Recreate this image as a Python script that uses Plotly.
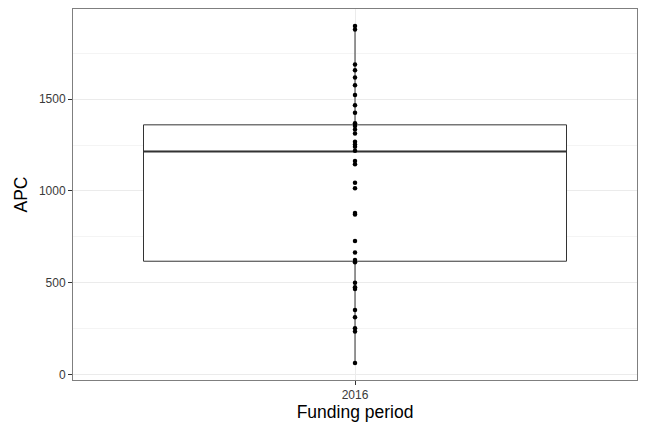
import plotly.graph_objects as go

# APC values (funding period 2016)
period = "2016"
apc_values = [
    1899, 1880, 1689, 1658, 1618, 1576, 1522, 1467, 1426, 1368, 1353, 1335,
    1313, 1268, 1253, 1240, 1219, 1163, 1145, 1045, 1014, 880, 872, 727,
    664, 624, 611, 500, 475, 466, 352, 312, 252, 234, 62,
]
# box statistics as drawn in the reference
box_q1 = 617
box_median = 1215
box_q3 = 1360
box_low = 62
box_high = 1899

x_pos = 2016
box_width = 0.9  # ggplot default

fig = go.Figure()
fig.add_trace(
    go.Box(
        x=[x_pos],
        q1=[box_q1],
        median=[box_median],
        q3=[box_q3],
        lowerfence=[box_low],
        upperfence=[box_high],
        width=box_width,
        whiskerwidth=0,
        fillcolor="white",
        line={"color": "#333333", "width": 1},
        boxpoints=False,
        hoverinfo="skip",
        showlegend=False,
    )
)
# ggplot draws the median thicker than the box outline
fig.add_trace(
    go.Scatter(
        x=[x_pos - box_width / 2, x_pos + box_width / 2],
        y=[box_median, box_median],
        mode="lines",
        line={"color": "#333333", "width": 2},
        hoverinfo="skip",
        showlegend=False,
    )
)
fig.add_trace(
    go.Scatter(
        x=[x_pos] * len(apc_values),
        y=apc_values,
        mode="markers",
        marker={"color": "black", "size": 4.5},
        showlegend=False,
    )
)

axis_common = {
    "automargin": False,
    "showline": True,
    "linecolor": "#7F7F7F",
    "linewidth": 1,
    "mirror": True,
    "ticks": "outside",
    "ticklen": 4,
    "tickcolor": "#333333",
    "tickfont": {"family": "Liberation Sans, Arial, sans-serif", "size": 12, "color": "#3A3A3A"},
    "gridcolor": "#EBEBEB",
    "gridwidth": 1,
    "zeroline": False,
}

# the page body adds an 8px margin, so the figure is sized to fit inside it
fig.update_layout(
    width=640,
    height=424,
    margin={"l": 65, "r": 11, "t": 1, "b": 52},
    paper_bgcolor="white",
    plot_bgcolor="white",
    font={"family": "Liberation Sans, Arial, sans-serif", "color": "black"},
    xaxis={
        **axis_common,
        "range": [x_pos - 0.6, x_pos + 0.6],
        "tickvals": [x_pos],
        "ticktext": [period],
        "title": {"text": "Funding period", "font": {"size": 17.5}, "standoff": 4},
    },
    yaxis={
        **axis_common,
        "range": [-30, 1991],
        "tickvals": [0, 500, 1000, 1500],
        "minor": {"tickvals": [250, 750, 1250, 1750], "showgrid": True,
                  "gridcolor": "#F4F4F4", "gridwidth": 0.5, "ticks": ""},
        "title": {"text": "APC", "font": {"size": 17.5}, "standoff": 6},
    },
)

fig.write_html("out.html")
